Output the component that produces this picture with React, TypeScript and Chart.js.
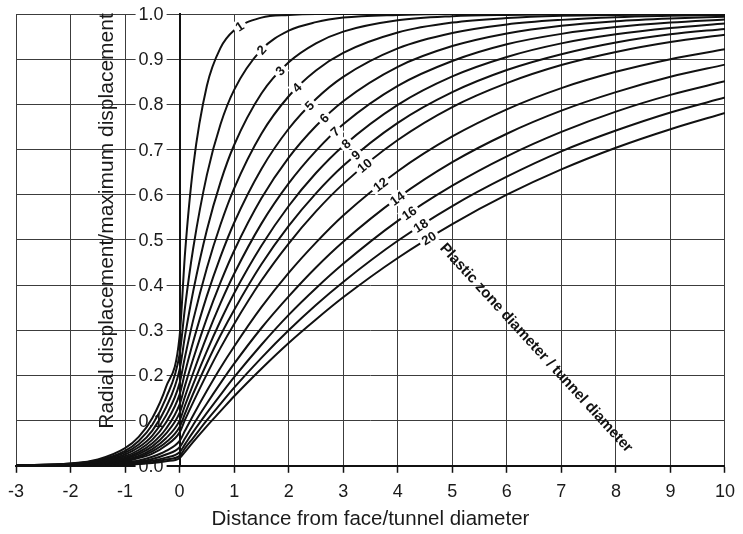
import React, { useEffect, useRef } from 'react';
import { Chart, registerables } from 'chart.js';

Chart.register(...registerables);

// Distance from face / tunnel diameter (shared x positions of the sampled points)
const distance = [-3, -2, -1.5, -1, -0.75, -0.5, -0.25, 0, 0.1, 0.25, 0.5, 0.75, 1, 1.5, 2, 2.5, 3, 4, 5, 6, 7, 8, 9, 10];

// Plastic zone diameter / tunnel diameter (curve labels)
const ratios = ['1', '2', '3', '4', '5', '6', '7', '8', '9', '10', '12', '14', '16', '18', '20'];

// Radial displacement / maximum displacement for each curve
const r1 = [0.001, 0.005, 0.014, 0.039, 0.064, 0.106, 0.174, 0.287, 0.472, 0.663, 0.841, 0.925, 0.964, 0.992, 0.998, 1.0, 1.0, 1.0, 1.0, 1.0, 1.0, 1.0, 1.0, 1.0];
const r2 = [0.001, 0.005, 0.012, 0.033, 0.055, 0.091, 0.150, 0.247, 0.352, 0.482, 0.644, 0.756, 0.832, 0.921, 0.963, 0.982, 0.992, 0.998, 1.0, 1.0, 1.0, 1.0, 1.0, 1.0];
const r3 = [0.001, 0.004, 0.011, 0.029, 0.047, 0.078, 0.129, 0.213, 0.288, 0.387, 0.522, 0.628, 0.710, 0.824, 0.893, 0.935, 0.961, 0.986, 0.995, 0.998, 0.999, 1.0, 1.0, 1.0];
const r4 = [0.0, 0.003, 0.009, 0.025, 0.041, 0.067, 0.111, 0.183, 0.242, 0.323, 0.438, 0.534, 0.614, 0.735, 0.818, 0.875, 0.914, 0.959, 0.981, 0.991, 0.996, 0.998, 0.999, 0.999];
const r5 = [0.0, 0.003, 0.008, 0.021, 0.035, 0.058, 0.096, 0.158, 0.207, 0.275, 0.376, 0.463, 0.538, 0.657, 0.746, 0.812, 0.861, 0.924, 0.958, 0.977, 0.987, 0.993, 0.996, 0.998];
const r6 = [0.0, 0.002, 0.007, 0.018, 0.030, 0.050, 0.082, 0.136, 0.178, 0.237, 0.327, 0.406, 0.476, 0.592, 0.682, 0.752, 0.807, 0.883, 0.929, 0.957, 0.974, 0.984, 0.990, 0.994];
const r7 = [0.0, 0.002, 0.006, 0.016, 0.026, 0.043, 0.071, 0.117, 0.154, 0.206, 0.287, 0.360, 0.425, 0.536, 0.625, 0.697, 0.756, 0.841, 0.896, 0.933, 0.956, 0.971, 0.981, 0.988];
const r8 = [0.0, 0.002, 0.005, 0.014, 0.022, 0.037, 0.061, 0.100, 0.134, 0.181, 0.254, 0.321, 0.382, 0.487, 0.575, 0.648, 0.708, 0.799, 0.862, 0.905, 0.935, 0.955, 0.969, 0.979];
const r9 = [0.0, 0.002, 0.004, 0.012, 0.019, 0.032, 0.052, 0.086, 0.116, 0.160, 0.227, 0.289, 0.345, 0.446, 0.531, 0.603, 0.664, 0.759, 0.827, 0.876, 0.911, 0.937, 0.955, 0.967];
const r10 = [0.0, 0.001, 0.004, 0.010, 0.017, 0.027, 0.045, 0.074, 0.102, 0.141, 0.203, 0.261, 0.314, 0.410, 0.492, 0.563, 0.624, 0.721, 0.794, 0.847, 0.887, 0.916, 0.938, 0.954];
const r12 = [0.0, 0.001, 0.003, 0.008, 0.012, 0.020, 0.033, 0.055, 0.078, 0.112, 0.166, 0.217, 0.264, 0.351, 0.427, 0.494, 0.554, 0.652, 0.729, 0.789, 0.836, 0.872, 0.900, 0.922];
const r14 = [0.0, 0.001, 0.002, 0.006, 0.009, 0.015, 0.025, 0.041, 0.061, 0.091, 0.138, 0.183, 0.226, 0.305, 0.375, 0.439, 0.496, 0.593, 0.672, 0.735, 0.786, 0.827, 0.861, 0.888];
const r16 = [0.0, 0.001, 0.002, 0.004, 0.007, 0.011, 0.018, 0.030, 0.048, 0.075, 0.117, 0.157, 0.196, 0.268, 0.334, 0.393, 0.447, 0.542, 0.620, 0.685, 0.739, 0.784, 0.821, 0.851];
const r18 = [0.0, 0.0, 0.001, 0.003, 0.005, 0.008, 0.014, 0.022, 0.039, 0.062, 0.101, 0.137, 0.173, 0.239, 0.300, 0.356, 0.407, 0.498, 0.575, 0.640, 0.696, 0.742, 0.782, 0.815];
const r20 = [0.0, 0.0, 0.001, 0.002, 0.004, 0.006, 0.010, 0.017, 0.031, 0.053, 0.088, 0.121, 0.154, 0.215, 0.272, 0.324, 0.373, 0.460, 0.535, 0.600, 0.656, 0.704, 0.745, 0.781];

const series = [r1, r2, r3, r4, r5, r6, r7, r8, r9, r10, r12, r14, r16, r18, r20];

// Distance at which each curve carries its label
const labelAt = [1.1, 1.5, 1.84, 2.15, 2.38, 2.65, 2.85, 3.05, 3.23, 3.39, 3.68, 3.99, 4.21, 4.42, 4.57];

const xTitle = 'Distance from face/tunnel diameter';
const yTitle = 'Radial displacement/maximum displacement';
const noteText = 'Plastic zone diameter / tunnel diameter';

const FONT = '"Liberation Sans", Arial, Helvetica, sans-serif';

function pointOnCurve(chart: any, i: number, px: number, xs: number[], ys: number[]) {
  const xScale = chart.scales.x;
  const yScale = chart.scales.y;
  const meta = chart.getDatasetMeta(i);
  const line = meta && meta.dataset;
  let p: any = null;
  try {
    p = line && line.interpolate ? line.interpolate({ x: px }, 'x') : null;
  } catch (e) {
    p = null;
  }
  if (p && isFinite(p.y)) return p.y;
  const xv = xScale.getValueForPixel(px);
  let j = 0;
  while (j < xs.length - 2 && xs[j + 1] < xv) j++;
  const t = (xv - xs[j]) / (xs[j + 1] - xs[j]);
  return yScale.getPixelForValue(ys[j] + t * (ys[j + 1] - ys[j]));
}

const overlay = {
  id: 'overlay',
  beforeDatasetsDraw(chart: any) {
    const { ctx, scales } = chart;
    const x = scales.x;
    const y = scales.y;
    const axisX = x.getPixelForValue(0);
    ctx.save();
    ctx.font = `18px ${FONT}`;
    ctx.textAlign = 'right';
    ctx.textBaseline = 'middle';
    y.ticks.forEach((t: any) => {
      const py = y.getPixelForValue(t.value);
      const txt = Number(t.value).toFixed(1);
      const w = ctx.measureText(txt).width;
      const right = axisX - 16;
      ctx.fillStyle = '#ffffff';
      ctx.fillRect(right - w - 3, py - 7, w + 6, 14);
      ctx.fillStyle = '#1a1a1a';
      ctx.fillText(txt, right, py + 1);
    });
    ctx.restore();

    ctx.save();
    ctx.translate(113, 221);
    ctx.rotate(-Math.PI / 2);
    ctx.font = `21px ${FONT}`;
    ctx.fillStyle = '#1a1a1a';
    ctx.textAlign = 'center';
    ctx.textBaseline = 'alphabetic';
    ctx.fillText(yTitle, 0, 0);
    ctx.restore();
  },
  afterDatasetsDraw(chart: any) {
    const { ctx, scales } = chart;
    const x = scales.x;
    ctx.save();
    ctx.font = `bold 13px ${FONT}`;
    series.forEach((ys, i) => {
      const px = x.getPixelForValue(labelAt[i]);
      const py = pointOnCurve(chart, i, px, distance, ys);
      const pyA = pointOnCurve(chart, i, px - 4, distance, ys);
      const pyB = pointOnCurve(chart, i, px + 4, distance, ys);
      const ang = Math.atan2(pyB - pyA, 8);
      const txt = ratios[i];
      const w = ctx.measureText(txt).width;
      ctx.save();
      ctx.translate(px, py);
      ctx.rotate(ang);
      ctx.fillStyle = '#ffffff';
      ctx.fillRect(-w / 2 - 3, -6.5, w + 6, 13);
      ctx.fillStyle = '#111111';
      ctx.textAlign = 'center';
      ctx.textBaseline = 'middle';
      ctx.fillText(txt, 0, 1);
      ctx.restore();
    });
    ctx.restore();

    ctx.save();
    ctx.translate(536, 348);
    ctx.rotate((47.5 * Math.PI) / 180);
    ctx.font = `bold 15px ${FONT}`;
    ctx.fillStyle = '#111111';
    ctx.textAlign = 'center';
    ctx.textBaseline = 'middle';
    ctx.fillText(noteText, 0, 0);
    ctx.restore();
  },
};

export default function App() {
  const ref = useRef<HTMLCanvasElement | null>(null);

  useEffect(() => {
    document.body.style.margin = '0';
    const canvas = ref.current;
    if (!canvas) return;
    const chart = new Chart(canvas, {
      type: 'line',
      data: {
        datasets: series.map((ys, i) => ({
          label: ratios[i],
          data: distance.map((d, k) => ({ x: d, y: ys[k] })),
          borderColor: '#111111',
          borderWidth: 2,
          pointRadius: 0,
          fill: false,
          cubicInterpolationMode: 'monotone' as const,
        })),
      },
      options: {
        animation: false,
        responsive: false,
        events: [],
        layout: { padding: { top: 14, left: 14, right: 9, bottom: 0 } },
        plugins: {
          legend: { display: false },
          tooltip: { enabled: false },
        },
        scales: {
          x: {
            type: 'linear',
            position: 'bottom',
            min: -3,
            max: 10,
            ticks: {
              stepSize: 1,
              color: '#1a1a1a',
              padding: 8,
              font: { size: 18, family: FONT },
            },
            grid: {
              color: '#3c3c3c',
              lineWidth: 1,
              tickLength: 7,
              tickColor: '#111111',
              tickWidth: 1.5,
            },
            border: { color: '#111111', width: 2 },
            title: {
              display: true,
              text: xTitle,
              color: '#1a1a1a',
              font: { size: 20.5, family: FONT },
              padding: { top: -3, bottom: 2 },
            },
          },
          y: {
            type: 'linear',
            axis: 'y',
            position: { x: 0 },
            min: 0,
            max: 1,
            ticks: { stepSize: 0.1, display: false },
            grid: { color: '#3c3c3c', lineWidth: 1, drawTicks: false },
            border: { color: '#111111', width: 2 },
          },
        },
      } as any,
      plugins: [overlay],
    });
    return () => chart.destroy();
  }, []);

  return (
    <canvas
      ref={ref}
      width={743}
      height={534}
      style={{ display: 'block', position: 'fixed', left: 0, top: 0 }}
    />
  );
}
